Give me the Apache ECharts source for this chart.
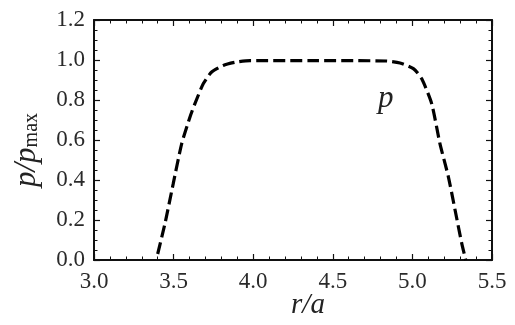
<!DOCTYPE html>
<html>
<head>
<meta charset="utf-8">
<script src="https://cdn.jsdelivr.net/npm/echarts@6/dist/echarts.min.js"></script>
<style>
  html, body { margin: 0; padding: 0; background: #fff; }
  #chart { width: 515px; height: 325px; }
</style>
</head>
<body>
<div id="chart"></div>
<script>
// r/a values and normalised pressure
var rVals = [3.40, 3.446, 3.498, 3.551, 3.603, 3.634, 3.687, 3.739, 3.812, 3.896, 3.98, 4.40, 4.838, 4.922, 5.006, 5.058, 5.121, 5.173, 5.226, 5.268, 5.31, 5.335]
var pVals = [0.03, 0.183, 0.383, 0.582, 0.715, 0.782, 0.882, 0.940, 0.973, 0.990, 0.997, 0.997, 0.995, 0.985, 0.957, 0.907, 0.782, 0.582, 0.416, 0.25, 0.083, 0.0]

var serif = 'Liberation Serif'

var chart = echarts.init(document.getElementById('chart'))

function frameAxis(pos, min, max, interval, split, labels) {
  return {
    type: 'value',
    position: pos,
    min: min,
    max: max,
    interval: interval,
    axisLine: { show: true, onZero: false, lineStyle: { color: '#111', width: 2 } },
    axisTick: { show: true, inside: true, length: 6, lineStyle: { color: '#111', width: 1.2 } },
    minorTick: { show: true, splitNumber: split, length: 3.5, lineStyle: { color: '#111', width: 1 } },
    splitLine: { show: false },
    axisLabel: {
      show: labels,
      fontFamily: serif,
      fontSize: 23,
      color: '#2a2a2a',
      formatter: function (v) { return v.toFixed(1) }
    }
  }
}

var xMain = frameAxis('bottom', 3.0, 5.5, 0.5, 5, true)
xMain.axisLabel.margin = 10
xMain.name = '{i|r/a}'
xMain.nameLocation = 'middle'
xMain.nameMoveOverlap = false
xMain.nameGap = 31
xMain.nameTextStyle = {
  padding: [0, 0, 0, 30],
  rich: { i: { fontFamily: serif, fontStyle: 'italic', fontSize: 29, color: '#222' } }
}

var yMain = frameAxis('left', 0, 1.2, 0.2, 4, true)
yMain.axisLabel.margin = 9
yMain.axisLabel.padding = [0, 0, 7, 0]
yMain.name = '{i|p/p}{s|max}'
yMain.nameLocation = 'middle'
yMain.nameRotate = 90
yMain.nameGap = 52
yMain.nameTextStyle = {
  padding: [0, 20, 0, 0],
  rich: {
    i: { fontFamily: serif, fontStyle: 'italic', fontSize: 31, color: '#222', verticalAlign: 'bottom', lineHeight: 34 },
    s: { fontFamily: serif, fontSize: 20, color: '#222', verticalAlign: 'bottom', lineHeight: 34, padding: [9, 0, 0, 0] }
  }
}

var option = {
  backgroundColor: '#fff',
  animation: false,
  grid: { left: 94, right: 23, top: 20, bottom: 65, containLabel: false, outerBoundsMode: 'none' },
  xAxis: [xMain, frameAxis('top', 3.0, 5.5, 0.5, 5, false)],
  yAxis: [yMain, frameAxis('right', 0, 1.2, 0.2, 4, false)],
  graphic: [{
    type: 'text',
    left: 378,
    top: 83,
    style: { text: 'p', fontFamily: serif, fontStyle: 'italic', fontSize: 31, fill: '#222' }
  }],
  series: [{
    type: 'line',
    xAxisIndex: 0,
    yAxisIndex: 0,
    data: rVals.map(function (r, i) { return [r, pVals[i]] }),
    showSymbol: false,
    smooth: 0.2,
    lineStyle: { color: '#000', width: 3.2, type: [12, 5] }
  }]
}

chart.setOption(option)
</script>
</body>
</html>
